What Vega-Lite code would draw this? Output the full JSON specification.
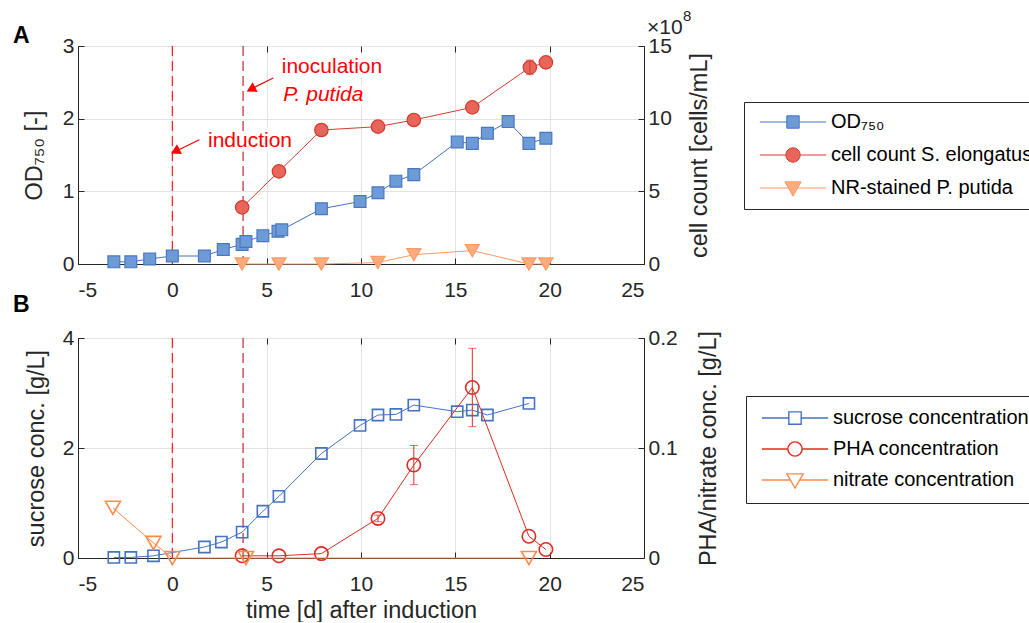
{
  "$schema": "https://vega.github.io/schema/vega-lite/v6.json",
  "autosize": {"type": "pad"},
  "padding": {"left": 12, "top": 8, "right": 0, "bottom": 0},
  "background": "white",
  "config": {
    "font": "Liberation Sans",
    "view": {"stroke": "#262626", "strokeWidth": 1},
    "axis": {
      "labelFont": "Liberation Sans", "labelFontSize": 21, "labelColor": "#262626",
      "titleFont": "Liberation Sans", "titleFontSize": 23.5, "titleFontWeight": "normal", "titleColor": "#262626",
      "domainColor": "#262626", "tickColor": "#262626", "gridColor": "#e3e3e3",
      "tickSize": -6, "labelPadding": 10, "labelExpr": "'' + datum.value"
    },
    "legend": {
      "labelFont": "Liberation Sans", "labelFontSize": 20, "labelColor": "#000000", "labelLimit": 400
    }
  },
  "datasets": {
    "od": [
      {"t": -3.1, "v": 0.03}, {"t": -2.2, "v": 0.03}, {"t": -1.2, "v": 0.07}, {"t": 0.0, "v": 0.11},
      {"t": 1.7, "v": 0.11}, {"t": 2.7, "v": 0.2}, {"t": 3.7, "v": 0.27}, {"t": 3.9, "v": 0.31},
      {"t": 4.8, "v": 0.39}, {"t": 5.6, "v": 0.45}, {"t": 5.8, "v": 0.47}, {"t": 7.9, "v": 0.76},
      {"t": 9.95, "v": 0.86}, {"t": 10.9, "v": 0.98}, {"t": 11.85, "v": 1.14}, {"t": 12.8, "v": 1.23},
      {"t": 15.1, "v": 1.68}, {"t": 15.9, "v": 1.66}, {"t": 16.7, "v": 1.8}, {"t": 17.8, "v": 1.96},
      {"t": 18.9, "v": 1.66}, {"t": 19.8, "v": 1.73}
    ],
    "cells": [
      {"t": 3.7, "v": 3.9}, {"t": 5.65, "v": 6.37}, {"t": 7.9, "v": 9.22}, {"t": 10.9, "v": 9.45},
      {"t": 12.8, "v": 9.91}, {"t": 15.9, "v": 10.78}, {"t": 18.95, "v": 13.53, "err": 0.5}, {"t": 19.8, "v": 13.87}
    ],
    "nr": [
      {"t": 3.7, "v": 0}, {"t": 5.65, "v": 0}, {"t": 7.9, "v": 0}, {"t": 10.9, "v": 0.1},
      {"t": 12.8, "v": 0.64}, {"t": 15.9, "v": 0.92}, {"t": 18.9, "v": 0}, {"t": 19.8, "v": 0}
    ],
    "sucrose": [
      {"t": -3.1, "v": 0.01}, {"t": -2.2, "v": 0.01}, {"t": -1.0, "v": 0.04}, {"t": 1.7, "v": 0.2},
      {"t": 2.6, "v": 0.29}, {"t": 3.7, "v": 0.47}, {"t": 4.8, "v": 0.85}, {"t": 5.65, "v": 1.12},
      {"t": 7.9, "v": 1.9}, {"t": 9.95, "v": 2.41}, {"t": 10.9, "v": 2.6}, {"t": 11.85, "v": 2.61},
      {"t": 12.8, "v": 2.78}, {"t": 15.1, "v": 2.66}, {"t": 15.9, "v": 2.69}, {"t": 16.7, "v": 2.6},
      {"t": 18.9, "v": 2.81}
    ],
    "pha": [
      {"t": 3.7, "v": 0.002}, {"t": 5.65, "v": 0.002}, {"t": 7.9, "v": 0.004},
      {"t": 10.9, "v": 0.036, "err": 0.003}, {"t": 12.8, "v": 0.0845, "err": 0.0178},
      {"t": 15.9, "v": 0.155, "err": 0.0356}, {"t": 18.9, "v": 0.0198}, {"t": 19.8, "v": 0.0077}
    ],
    "nitrate": [
      {"t": -3.15, "v": 0.0456}, {"t": -1.0, "v": 0.0137}, {"t": 0.0, "v": 0}, {"t": 3.9, "v": 0}, {"t": 18.9, "v": 0}
    ],
    "notes": [
      {"label": "induction", "t": 1.89, "v": 8.45},
      {"label": "inoculation", "t": 5.8, "v": 13.55},
      {"label": "P. putida", "t": 5.88, "v": 11.6}
    ],
    "arrows": [
      {"t": 1.43, "v": 8.55, "t2": 0.02, "v2": 7.65, "ht": 0.23, "hv": 7.8},
      {"t": 5.35, "v": 12.8, "t2": 4.03, "v2": 11.95, "ht": 4.24, "hv": 12.075}
    ]
  },
  "vconcat": [
    {
      "width": 566, "height": 218,
      "resolve": {"scale": {"y": "independent"}, "axis": {"x": "independent"}},
      "layer": [
        {
          "layer": [
            {"data": {"values": [{}]},
             "mark": {"type": "rule", "color": "#ff1a1a", "strokeDash": [10, 5], "strokeWidth": 1.2},
             "encoding": {"x": {"datum": 0, "type": "quantitative", "scale": {"domain": [-5, 25], "nice": false},
               "axis": {"values": [-5, 0, 5, 10, 15, 20, 25], "title": null, "grid": true, "labelPadding": 21}}}},
            {"data": {"values": [{}]},
             "mark": {"type": "rule", "color": "#c42830", "strokeDash": [10, 5], "strokeWidth": 1.2},
             "encoding": {"x": {"datum": 3.75, "type": "quantitative"}}},
            {"data": {"name": "od"},
             "mark": {"type": "line", "color": "#4472c4", "strokeWidth": 1,
               "point": {"shape": "square", "size": 140, "filled": true, "fill": "#6d9bd6", "stroke": "#4a78c0", "strokeWidth": 1.2, "opacity": 1}},
             "encoding": {
               "x": {"field": "t", "type": "quantitative", "title": null},
               "y": {"field": "v", "type": "quantitative", "title": "OD₇₅₀ [-]", "scale": {"domain": [0, 3], "nice": false},
                 "axis": {"values": [0, 1, 2, 3], "grid": true, "orient": "left", "titlePadding": 16}}}},
            {"data": {"values": [{}]},
             "mark": {"type": "text", "text": "A", "fontSize": 23, "fontWeight": "bold", "align": "left", "baseline": "alphabetic", "dx": -65, "dy": -3, "color": "#000000"},
             "encoding": {"x": {"datum": -5, "type": "quantitative"}, "y": {"datum": 3, "type": "quantitative"}}}
          ]
        },
        {
          "layer": [
            {"data": {"name": "cells"},
             "mark": {"type": "line", "color": "#d93a30", "strokeWidth": 1,
               "point": {"shape": "circle", "size": 180, "filled": true, "fill": "#e8655a", "stroke": "#d33a2f", "strokeWidth": 1.2, "opacity": 1}},
             "encoding": {
               "x": {"field": "t", "type": "quantitative", "title": null,
                 "axis": {"orient": "top", "values": [-5, 0, 5, 10, 15, 20, 25], "labels": false, "grid": false, "title": null, "domain": false}},
               "y": {"field": "v", "type": "quantitative", "title": "cell count [cells/mL]", "scale": {"domain": [0, 15], "nice": false},
                 "axis": {"values": [0, 5, 10, 15], "grid": false, "orient": "right", "titleAngle": 270, "titlePadding": 40}}}},
            {"data": {"name": "cells"},
             "transform": [{"filter": "datum.err != null"}],
             "mark": {"type": "errorbar", "color": "#d93a30", "ticks": {"size": 8}},
             "encoding": {"x": {"field": "t", "type": "quantitative", "title": null}, "y": {"field": "v", "type": "quantitative", "title": "cell count [cells/mL]"}, "yError": {"field": "err"}}},
            {"data": {"name": "nr"},
             "mark": {"type": "line", "color": "#ff9966", "strokeWidth": 1,
               "point": {"shape": "triangle-down", "size": 200, "filled": true, "fill": "#ffab80", "stroke": "#ff9a60", "strokeWidth": 1.2, "opacity": 1}},
             "encoding": {"x": {"field": "t", "type": "quantitative", "title": null}, "y": {"field": "v", "type": "quantitative", "title": "cell count [cells/mL]"}}},
            {"data": {"name": "notes"},
             "transform": [{"filter": "datum.label != 'P. putida'"}],
             "mark": {"type": "text", "align": "left", "baseline": "middle", "fontSize": 21, "color": "white", "stroke": "white", "strokeWidth": 9, "strokeJoin": "round"},
             "encoding": {"x": {"field": "t", "type": "quantitative", "title": null}, "y": {"field": "v", "type": "quantitative", "title": "cell count [cells/mL]"},
               "text": {"field": "label"}}},
            {"data": {"name": "notes"},
             "transform": [{"filter": "datum.label == 'P. putida'"}],
             "mark": {"type": "text", "align": "left", "baseline": "middle", "fontSize": 21, "fontStyle": "italic", "color": "white", "stroke": "white", "strokeWidth": 9, "strokeJoin": "round"},
             "encoding": {"x": {"field": "t", "type": "quantitative", "title": null}, "y": {"field": "v", "type": "quantitative", "title": "cell count [cells/mL]"},
               "text": {"field": "label"}}},
            {"data": {"name": "notes"},
             "transform": [{"filter": "datum.label != 'P. putida'"}],
             "mark": {"type": "text", "align": "left", "baseline": "middle", "fontSize": 21, "color": "#ff0000"},
             "encoding": {"x": {"field": "t", "type": "quantitative", "title": null}, "y": {"field": "v", "type": "quantitative", "title": "cell count [cells/mL]"},
               "text": {"field": "label"}}},
            {"data": {"name": "notes"},
             "transform": [{"filter": "datum.label == 'P. putida'"}],
             "mark": {"type": "text", "align": "left", "baseline": "middle", "fontSize": 21, "fontStyle": "italic", "color": "#ff0000"},
             "encoding": {"x": {"field": "t", "type": "quantitative", "title": null}, "y": {"field": "v", "type": "quantitative", "title": "cell count [cells/mL]"},
               "text": {"field": "label"}}},
            {"data": {"name": "arrows"},
             "mark": {"type": "rule", "color": "#ff0000", "strokeWidth": 1.2},
             "encoding": {"x": {"field": "t", "type": "quantitative", "title": null}, "y": {"field": "v", "type": "quantitative", "title": "cell count [cells/mL]"},
               "x2": {"field": "t2"}, "y2": {"field": "v2"}}},
            {"data": {"name": "arrows"},
             "mark": {"type": "point", "shape": "triangle", "angle": 243, "size": 120, "filled": true, "color": "#ff0000", "opacity": 1},
             "encoding": {"x": {"field": "ht", "type": "quantitative", "title": null}, "y": {"field": "hv", "type": "quantitative", "title": "cell count [cells/mL]"}}},
            {"data": {"values": [{}]},
             "mark": {"type": "text", "text": "×10", "fontSize": 21, "align": "left", "baseline": "alphabetic", "dx": 3, "dy": -12, "color": "#262626"},
             "encoding": {"x": {"datum": 25, "type": "quantitative"}, "y": {"datum": 15, "type": "quantitative"}}},
            {"data": {"values": [{}]},
             "mark": {"type": "text", "text": "8", "fontSize": 15, "align": "left", "baseline": "alphabetic", "dx": 39, "dy": -25, "color": "#262626"},
             "encoding": {"x": {"datum": 25, "type": "quantitative"}, "y": {"datum": 15, "type": "quantitative"}}},
            {"data": {"values": [{"s": "OD₇₅₀"}, {"s": "cell count S. elongatus"}, {"s": "NR-stained P. putida"}]},
             "transform": [{"filter": "false"}],
             "mark": {"type": "point", "filled": true, "strokeWidth": 1, "opacity": 1},
             "encoding": {
               "shape": {"field": "s", "type": "nominal",
                 "scale": {"domain": ["OD₇₅₀", "cell count S. elongatus", "NR-stained P. putida"],
                   "range": [
                     "M-5.1,0H-0.95M0.95,0H5.1M-0.95,-0.95H0.95V0.95H-0.95Z",
                     "M-5.1,0H-1.1M1.1,0H5.1M-1.1,0A1.1,1.1,0,1,1,1.1,0A1.1,1.1,0,1,1,-1.1,0Z",
                     "M-5.1,0H-0.7M0.7,0H5.1M-1.25,-0.95H1.25L0,1.25Z"]},
                 "legend": {"title": null, "orient": "none", "legendX": 666, "legendY": 56, "symbolSize": 169,
                   "symbolOffset": 29, "labelOffset": 28, "padding": 10, "rowPadding": 13, "symbolOpacity": 1,
                   "strokeColor": "#262626", "fillColor": "white", "symbolStrokeWidth": 1}},
               "fill": {"field": "s", "type": "nominal",
                 "scale": {"domain": ["OD₇₅₀", "cell count S. elongatus", "NR-stained P. putida"], "range": ["#6d9bd6", "#e8655a", "#ffab80"]}},
               "stroke": {"field": "s", "type": "nominal",
                 "scale": {"domain": ["OD₇₅₀", "cell count S. elongatus", "NR-stained P. putida"], "range": ["#4472c4", "#d93a30", "#ff9966"]}}
             }}
          ]
        }
      ]
    },
    {
      "width": 566, "height": 220,
      "resolve": {"scale": {"y": "independent"}, "axis": {"x": "independent"}},
      "layer": [
        {
          "layer": [
            {"data": {"values": [{}]},
             "mark": {"type": "rule", "color": "#ff1a1a", "strokeDash": [10, 5], "strokeWidth": 1.2},
             "encoding": {"x": {"datum": 0, "type": "quantitative", "scale": {"domain": [-5, 25], "nice": false},
               "axis": {"values": [-5, 0, 5, 10, 15, 20, 25], "title": "time [d] after induction", "grid": true, "labelPadding": 21, "titlePadding": 4}}}},
            {"data": {"values": [{}]},
             "mark": {"type": "rule", "color": "#c42830", "strokeDash": [10, 5], "strokeWidth": 1.2},
             "encoding": {"x": {"datum": 3.75, "type": "quantitative"}}},
            {"data": {"name": "sucrose"},
             "mark": {"type": "line", "color": "#4473c5", "strokeWidth": 1,
               "point": {"shape": "square", "size": 125, "filled": false, "stroke": "#4473c5", "strokeWidth": 1.6, "opacity": 1}},
             "encoding": {
               "x": {"field": "t", "type": "quantitative", "title": "time [d] after induction"},
               "y": {"field": "v", "type": "quantitative", "title": "sucrose conc. [g/L]", "scale": {"domain": [0, 4], "nice": false},
                 "axis": {"values": [0, 2, 4], "grid": true, "orient": "left", "titlePadding": 14}}}},
            {"data": {"values": [{}]},
             "mark": {"type": "text", "text": "B", "fontSize": 23, "fontWeight": "bold", "align": "left", "baseline": "alphabetic", "dx": -65, "dy": -26, "color": "#000000"},
             "encoding": {"x": {"datum": -5, "type": "quantitative"}, "y": {"datum": 4, "type": "quantitative"}}}
          ]
        },
        {
          "layer": [
            {"data": {"name": "pha"},
             "mark": {"type": "line", "color": "#e02b20", "strokeWidth": 1,
               "point": {"shape": "circle", "size": 180, "filled": false, "stroke": "#e02b20", "strokeWidth": 1.6, "opacity": 1}},
             "encoding": {
               "x": {"field": "t", "type": "quantitative", "title": null,
                 "axis": {"orient": "top", "values": [-5, 0, 5, 10, 15, 20, 25], "labels": false, "grid": false, "title": null, "domain": false}},
               "y": {"field": "v", "type": "quantitative", "title": "PHA/nitrate conc. [g/L]", "scale": {"domain": [0, 0.2], "nice": false},
                 "axis": {"values": [0, 0.1, 0.2], "grid": false, "orient": "right", "titleAngle": 270, "titlePadding": 43}}}},
            {"data": {"name": "pha"},
             "transform": [{"filter": "datum.err != null"}],
             "mark": {"type": "errorbar", "color": "#e02b20", "ticks": {"size": 8}},
             "encoding": {"x": {"field": "t", "type": "quantitative", "title": null}, "y": {"field": "v", "type": "quantitative", "title": "PHA/nitrate conc. [g/L]"}, "yError": {"field": "err"}}},
            {"data": {"name": "nitrate"},
             "mark": {"type": "line", "color": "#ff8a50", "strokeWidth": 1,
               "point": {"shape": "triangle-down", "size": 230, "filled": false, "stroke": "#ff8a50", "strokeWidth": 1.6, "opacity": 1}},
             "encoding": {"x": {"field": "t", "type": "quantitative", "title": null}, "y": {"field": "v", "type": "quantitative", "title": "PHA/nitrate conc. [g/L]"}}},
            {"data": {"values": [{"s": "sucrose concentration"}, {"s": "PHA concentration"}, {"s": "nitrate concentration"}]},
             "transform": [{"filter": "false"}],
             "mark": {"type": "point", "filled": false, "strokeWidth": 1.4, "opacity": 1},
             "encoding": {
               "shape": {"field": "s", "type": "nominal",
                 "scale": {"domain": ["sucrose concentration", "PHA concentration", "nitrate concentration"],
                   "range": [
                     "M-5.1,0H-0.95M0.95,0H5.1M-0.95,-0.95H0.95V0.95H-0.95Z",
                     "M-5.1,0H-1.1M1.1,0H5.1M-1.1,0A1.1,1.1,0,1,1,1.1,0A1.1,1.1,0,1,1,-1.1,0Z",
                     "M-5.1,0H-0.7M0.7,0H5.1M-1.25,-0.95H1.25L0,1.25Z"]},
                 "legend": {"title": null, "orient": "none", "legendX": 668, "legendY": 58, "symbolSize": 169,
                   "symbolOffset": 27, "labelOffset": 28, "padding": 12, "rowPadding": 11, "symbolOpacity": 1,
                   "strokeColor": "#262626", "fillColor": "white", "symbolStrokeWidth": 1.4}},
               "stroke": {"field": "s", "type": "nominal",
                 "scale": {"domain": ["sucrose concentration", "PHA concentration", "nitrate concentration"], "range": ["#4473c5", "#e02b20", "#ff8a50"]}}
             }}
          ]
        }
      ]
    }
  ],
  "spacing": 74,
  "bounds": "flush",
  "resolve": {"scale": {"shape": "independent", "fill": "independent", "stroke": "independent"}}
}
